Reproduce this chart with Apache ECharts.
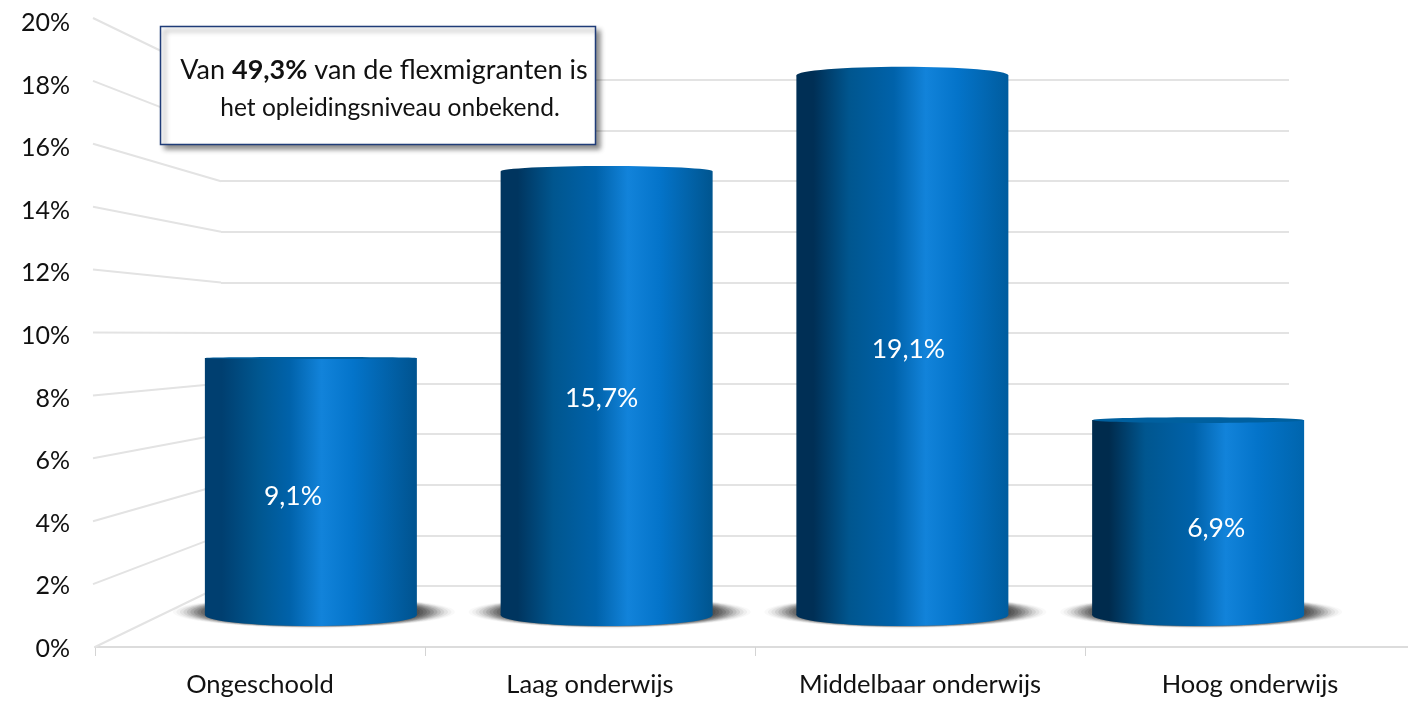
<!DOCTYPE html>
<html>
<head>
<meta charset="utf-8">
<style>
  html, body { margin: 0; padding: 0; background: #fff; }
  #chart { width: 1408px; height: 701px; }
</style>
<script src="https://cdn.jsdelivr.net/npm/echarts@6/dist/echarts.min.js"></script>
</head>
<body>
<div id="chart"></div>
<script>
var categories = ['Ongeschoold', 'Laag onderwijs', 'Middelbaar onderwijs', 'Hoog onderwijs']
var shares = [9.1, 15.7, 19.1, 6.9]
var unknownShare = '49,3%'

// fixes where the data labels sit on the cylinders (px)
var labelOffsets = [[-18, 10], [-5, 5], [6, 4], [18, 11]]
// the light falls a bit differently on each cylinder
var leftTones = ['#003f70', '#00355f', '#002f55', '#002b4d']
var rightTones = ['#00538f', '#00558f', '#005c9e', '#0065ad']
var peakAt = [0.55, 0.6, 0.61, 0.63]

var fontName = 'Lato, "Open Sans", sans-serif'
var barWidth = 212
var baseRy = 11
var horizon = 10 // the 10% wall line runs flat, eye level of the 3d view
var frontLeft = 93
var gridColor = '#e3e3e3'

var chart = echarts.init(document.getElementById('chart'))

function pct(v) {
  return String(v).replace('.', ',') + '%'
}

function cylinderFill(i) {
  var p = peakAt[i]
  return new echarts.graphic.LinearGradient(0, 0, 1, 0, [
    { offset: 0, color: leftTones[i] },
    { offset: 0.08, color: leftTones[i] },
    { offset: 0.25, color: '#00568f' },
    { offset: p - 0.15, color: '#0062aa' },
    { offset: p, color: '#1283da' },
    { offset: p + 0.15, color: '#0474ca' },
    { offset: 1, color: rightTones[i] }
  ])
}

// value axes all run 0-20 with a tick every 2, only the plane they sit on differs
function valueAxis(gridIndex, extra) {
  return Object.assign({
    gridIndex: gridIndex,
    type: 'value',
    min: 0,
    max: 20,
    interval: 2,
    axisLine: { show: false },
    axisTick: { show: false },
    axisLabel: { show: false },
    splitLine: { show: false }
  }, extra)
}

function hiddenCategory(gridIndex) {
  return { gridIndex: gridIndex, type: 'category', data: categories, show: false }
}

// wall lines: front axis tick to the same tick on the back wall
function renderSlant(params, api) {
  var v = api.value(1)
  var back = api.coord([0, v])
  var frontY = chart.convertToPixel({ yAxisIndex: 0 }, v)
  return {
    type: 'line',
    shape: { x1: v === 0 ? frontLeft + 2 : frontLeft, y1: frontY, x2: params.coordSys.x, y2: back[1] },
    style: { stroke: gridColor, lineWidth: 2 }
  }
}

// stacked see-through ellipses, outer ones fainter so the tips fade out
function renderFloorShadow(params, api) {
  var base = api.coord([api.value(0), 0])
  var children = []
  for (var i = 0; i < 12; i++) {
    var alpha = 0.03 + i * 0.02
    children.push({
      type: 'ellipse',
      shape: { cx: base[0] + 3, cy: base[1] - 3, rx: 141 - i * 3.5, ry: 15.5 - i * 0.2 },
      style: {
        fill: 'rgba(50,50,50,' + alpha + ')',
        shadowBlur: 4,
        shadowColor: 'rgba(50,50,50,' + alpha + ')'
      }
    })
  }
  return { type: 'group', children: children }
}

function renderCaps(params, api) {
  var i = api.value(0)
  var v = api.value(1)
  var top = api.coord([i, v])
  var base = api.coord([i, 0])
  var ry = Math.max(1, Math.abs(v - horizon) * 0.95)
  return {
    type: 'group',
    children: [
      {
        type: 'ellipse',
        shape: { cx: base[0], cy: base[1], rx: barWidth / 2, ry: baseRy },
        style: { fill: cylinderFill(i) }
      },
      {
        type: 'ellipse',
        shape: { cx: top[0], cy: top[1], rx: barWidth / 2, ry: ry },
        // below eye level the lid itself is in view, and it is darker
        style: { fill: v < horizon ? '#00609f' : cylinderFill(i) }
      }
    ]
  }
}

var barPoints = shares.map(function(v, i) { return [i, v] })
var tickPoints = []
for (var t = 0; t <= 20; t += 2) tickPoints.push([0, t])

var option = {
  backgroundColor: '#fff',
  animation: false,
  grid: [
    { left: 95, width: 1320, top: 18, bottom: 54, outerBoundsMode: 'none' },  // front plane, x axis
    { left: 221, right: 119, top: 80, bottom: 115, outerBoundsMode: 'none' }, // back wall
    { left: 163, right: 62, top: 50, bottom: 86, outerBoundsMode: 'none' },   // cylinders
    { left: 70, width: 1, top: 23, bottom: 52, outerBoundsMode: 'none' }      // y labels
  ],
  xAxis: [
    {
      gridIndex: 0,
      type: 'category',
      data: categories,
      axisLine: { lineStyle: { color: '#dcdcdc', width: 2 } },
      axisTick: { show: true, length: 9, lineStyle: { color: '#d4d4d4', width: 1 } },
      axisLabel: { color: '#111', fontFamily: fontName, fontSize: 25.5, margin: 25 }
    },
    hiddenCategory(1),
    hiddenCategory(2),
    hiddenCategory(3)
  ],
  yAxis: [
    valueAxis(0, { show: false }),
    valueAxis(1, { splitLine: { show: true, lineStyle: { color: gridColor, width: 2 } } }),
    valueAxis(2, { show: false }),
    valueAxis(3, {
      axisLabel: {
        show: true,
        margin: 0,
        color: '#111',
        fontFamily: fontName,
        fontSize: 25,
        formatter: function(v) { return v + '%' }
      }
    })
  ],
  series: [
    {
      type: 'custom',
      name: 'wall',
      xAxisIndex: 1,
      yAxisIndex: 1,
      z: 1,
      silent: true,
      clip: false,
      data: tickPoints,
      renderItem: renderSlant
    },
    {
      type: 'custom',
      name: 'shadow',
      xAxisIndex: 2,
      yAxisIndex: 2,
      z: 2,
      silent: true,
      clip: false,
      data: barPoints,
      renderItem: renderFloorShadow
    },
    {
      type: 'bar',
      name: 'Aandeel',
      xAxisIndex: 2,
      yAxisIndex: 2,
      z: 3,
      barWidth: barWidth,
      data: shares.map(function(v, i) {
        return {
          value: v,
          itemStyle: { color: cylinderFill(i) },
          label: { offset: labelOffsets[i] }
        }
      }),
      label: {
        show: true,
        position: 'inside',
        color: '#fff',
        fontFamily: fontName,
        fontSize: 26.5,
        formatter: function(p) { return pct(p.value) }
      }
    },
    {
      type: 'custom',
      name: 'caps',
      xAxisIndex: 2,
      yAxisIndex: 2,
      z: 4,
      silent: true,
      clip: false,
      data: barPoints,
      renderItem: renderCaps
    }
  ],
  graphic: [
    {
      type: 'rect',
      z: 20,
      shape: { x: 160.5, y: 26.5, width: 435, height: 118 },
      style: {
        fill: '#fff',
        stroke: '#1f3c78',
        lineWidth: 1.5,
        shadowBlur: 5,
        shadowOffsetX: 4,
        shadowOffsetY: 4,
        shadowColor: 'rgba(0,0,0,0.45)'
      }
    },
    {
      type: 'text',
      z: 21,
      x: 384,
      y: 70,
      style: {
        text: '{n|Van }{b|' + unknownShare + '}{n| van de flexmigranten is}',
        align: 'center',
        verticalAlign: 'middle',
        fill: '#111',
        rich: {
          n: { fontFamily: fontName, fontSize: 27, fill: '#111' },
          b: { fontFamily: fontName, fontSize: 27, fontWeight: 'bold', fill: '#111' }
        }
      }
    },
    {
      type: 'text',
      z: 21,
      x: 390,
      y: 108,
      style: {
        text: 'het opleidingsniveau onbekend.',
        align: 'center',
        verticalAlign: 'middle',
        fill: '#111',
        fontFamily: fontName,
        fontSize: 24.5
      }
    }
  ]
}

chart.setOption(option)
</script>
</body>
</html>
